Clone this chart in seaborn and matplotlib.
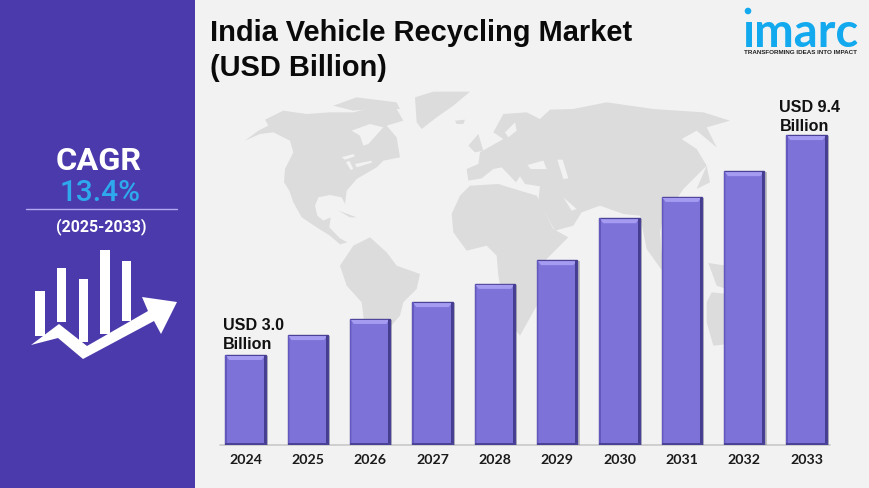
import matplotlib
matplotlib.use("Agg")
import matplotlib.pyplot as plt
import matplotlib.patheffects as pe
from matplotlib.patches import Polygon, Rectangle, Circle
import pandas as pd
import seaborn as sns

# Dados
anos = ["2024", "2025", "2026", "2027", "2028", "2029", "2030", "2031", "2032", "2033"]
valores = [3.0, 3.58, 4.05, 4.54, 5.07, 5.76, 6.98, 7.6, 8.35, 9.4]

W, H = 870, 489
FUNDO = "#f2f2f2"
MAPA = "#dcdcdc"
ROXO = "#4b3aab"
BARRA = "#7d72d8"
AZUL = "#12a9ee"

# Contornos do mapa: (origem x, origem y, pontos no zoom 3x)
zoom_a = (240, 90)
zoom_b = (440, 90)
terras = [
    (zoom_a, [(15, 155), (55, 125), (85, 110), (75, 92), (130, 65), (200, 75), (270, 70), (340, 70), (400, 55),
              (470, 60), (490, 95), (440, 110), (470, 145), (480, 205), (430, 215), (410, 235), (350, 270),
              (320, 305), (315, 345), (305, 325), (270, 318), (235, 325), (225, 350), (232, 380), (250, 395),
              (272, 385), (268, 415), (300, 448), (322, 460), (300, 466), (270, 440), (230, 415), (185, 385),
              (160, 340), (148, 305), (132, 280), (135, 240), (160, 190), (150, 155), (100, 130), (60, 135)]),
    (zoom_a, [(280, 50), (350, 25), (470, 40), (480, 60), (400, 60), (340, 65)]),
    (zoom_a, [(525, 25), (580, 8), (690, 8), (640, 50), (590, 85), (545, 120), (530, 100)]),
    (zoom_a, [(295, 365), (350, 385), (330, 385)]),
    (zoom_a, [(300, 530), (340, 470), (390, 445), (440, 490), (470, 530), (540, 555), (530, 600), (490, 640),
              (480, 680), (445, 720), (440, 800), (415, 900), (395, 900), (385, 780), (370, 680), (365, 640),
              (320, 590)]),
    (zoom_b, [(35, 375), (60, 320), (90, 290), (175, 285), (240, 305), (290, 320), (340, 420), (385, 445),
              (340, 490), (290, 540), (290, 650), (240, 740), (200, 690), (175, 560), (170, 500), (140, 470),
              (80, 485), (40, 430)]),
    (zoom_b, [(80, 240), (115, 225), (120, 190), (190, 150), (160, 130), (190, 75), (260, 70), (300, 90),
              (330, 62), (400, 60), (500, 40), (640, 60), (790, 70), (870, 95), (800, 115), (830, 175), (770, 125),
              (725, 150), (770, 180), (800, 230), (730, 300), (700, 345), (670, 380), (660, 430), (670, 550),
              (620, 480), (600, 380), (550, 375), (480, 350), (425, 370), (400, 410), (345, 425), (295, 335),
              (300, 292), (255, 285), (240, 262), (228, 280), (185, 235), (160, 240), (125, 268), (85, 275)]),
    (zoom_b, [(85, 170), (115, 135), (130, 185), (105, 190)]),
    (zoom_b, [(45, 95), (75, 92), (70, 105), (50, 105)]),
    (zoom_b, [(770, 300), (800, 230), (810, 280)]),
    (zoom_b, [(805, 522), (858, 530), (860, 600), (830, 590)]),
    (zoom_b, [(800, 640), (815, 610), (860, 615), (910, 640), (910, 760), (820, 770), (800, 700)]),
]
mares = [
    (zoom_a, [(335, 125), (390, 105), (430, 115), (385, 165), (370, 170), (360, 140)]),
    (zoom_a, [(305, 205), (340, 195), (345, 202), (315, 212)]),
    (zoom_a, [(318, 220), (328, 215), (340, 240), (332, 243)]),
    (zoom_a, [(345, 225), (395, 215), (395, 221), (350, 235)]),
    (zoom_b, [(262, 228), (310, 215), (320, 240), (272, 240)]),
    (zoom_b, [(352, 212), (368, 212), (385, 268), (370, 270)]),
    (zoom_b, [(195, 130), (225, 100), (230, 125), (205, 145)]),
    (zoom_b, [(370, 325), (410, 360), (395, 365)]),
]

# Icone do painel
icone_barras = [(35, 292, 10, 45), (57, 269, 9, 54), (79, 280, 9, 63), (100, 251, 10, 84), (122, 262, 9, 60)]
icone_seta = [(31, 346), (59, 325), (87, 347), (148, 312), (142, 298), (177, 303), (161, 335), (154, 322),
              (83, 360), (58, 339)]

sns.set_theme(style="white")
plt.rcParams["font.family"] = ["Liberation Sans", "DejaVu Sans"]

fig = plt.figure(figsize=(W / 100, H / 100), dpi=100, facecolor=FUNDO)

# Camada de fundo em pixels
bg = fig.add_axes([0, 0, 1, 1])
bg.set_xlim(0, W)
bg.set_ylim(H, 0)
bg.axis("off")


def para_pixels(origem, pts):
    return [(origem[0] + x / 3, origem[1] + y / 3) for x, y in pts]


for origem, pts in terras:
    bg.add_patch(Polygon(para_pixels(origem, pts), closed=True, fc=MAPA, ec="none"))
for origem, pts in mares:
    bg.add_patch(Polygon(para_pixels(origem, pts), closed=True, fc=FUNDO, ec="none"))

# Painel esquerdo
bg.add_patch(Rectangle((0, 0), 195, H, fc=ROXO, ec="none"))
bg.text(98.5, 161, "CAGR", color="white", fontsize=23.4, fontweight="bold", family="Roboto", ha="center", va="center")
bg.text(100.5, 193, "13.4%", color="#2ea9ee", fontsize=21.4, fontweight="medium", family="Roboto", ha="center", va="center")
bg.plot([26, 177], [210, 210], color="#b3a9f0", lw=1)
bg.text(101, 227, "(2025-2033)", color="white", fontsize=11.4, fontweight="bold", family="Roboto", ha="center", va="center")
for x, y, w, h in icone_barras:
    bg.add_patch(Rectangle((x, y), w, h, fc="white", ec="none"))
bg.add_patch(Polygon(icone_seta, closed=True, fc="white", ec="none"))

# Titulo
bg.text(210, 33, "India Vehicle Recycling Market", color="#0a0a0a", fontsize=20.85, fontweight="bold", va="center")
bg.text(210, 68, "(USD Billion)", color="#0a0a0a", fontsize=20.85, fontweight="bold", va="center")

# Logo
bg.add_patch(Circle((748, 12), 3.3, fc=AZUL, ec="none"))
bg.text(801, 47, "\u0131marc", color=AZUL, fontsize=34, fontweight="bold", family="Lato", ha="center", va="baseline")
bg.text(801, 53, "TRANSFORMING IDEAS INTO IMPACT", color="#222222", fontsize=4.5, fontweight="bold", ha="center", va="center")

# Linha de base do grafico
bg.plot([220, 830], [445.5, 445.5], color="#c8c8c8", lw=1.2)

# Grafico de barras
ax = fig.add_axes([214.3 / W, 1 - 446 / H, 623.4 / W, 345 / H])
ax.patch.set_alpha(0)
dados = pd.DataFrame({"ano": anos, "valor": valores})
sns.barplot(data=dados, x="ano", y="valor", ax=ax, width=0.65, color=BARRA, saturation=1,
            edgecolor="#4a4296", linewidth=1.0)
ax.set_xlim(-0.5, 9.5)
ax.set_ylim(0.382, 10.42)
ax.set_xlabel("")
ax.set_ylabel("")
ax.set_yticks([])
for lado in ax.spines:
    ax.spines[lado].set_visible(False)
ax.tick_params(axis="x", length=0, pad=6)
for rotulo in ax.get_xticklabels():
    rotulo.set_family("Lato")
    rotulo.set_fontweight("bold")
    rotulo.set_fontsize(10.2)
    rotulo.set_color("#1a1a1a")

# Chanfro e sombra de cada barra
px_x = 1 / 62.34
px_y = 10.038 / 345
for barra in ax.patches[:len(anos)]:
    x0, larg, topo = barra.get_x(), barra.get_width(), barra.get_height()
    barra.set_path_effects([pe.SimplePatchShadow(offset=(1.5, -0.7), shadow_rgbFace="#666666", alpha=0.35), pe.Normal()])
    ax.add_patch(Polygon([(x0 + px_x, topo - px_y), (x0 + larg - px_x, topo - px_y),
                          (x0 + larg - 4 * px_x, topo - 5 * px_y), (x0 + 4 * px_x, topo - 5 * px_y)],
                         closed=True, fc="#a59cf2", ec="none"))
    ax.add_patch(Rectangle((x0 + larg - 2 * px_x, 0.382), 2 * px_x, topo - 0.382, fc="#453d90", ec="none"))
    ax.add_patch(Rectangle((x0, 0.382), 1.5 * px_x, topo - 0.382, fc="#6258bd", ec="none"))
    ax.add_patch(Rectangle((x0, 0.382), larg, 2 * px_y, fc="#4a4296", ec="none"))

# Rotulos das pontas
rotulos = [(0, f"USD {valores[0]:.1f}\nBillion", (-16.5, 3)), (9, f"USD {valores[9]:.1f}\nBillion", (-19.5, 1.5))]
for i, texto, desloc in rotulos:
    ax.annotate(texto, xy=(i, valores[i]), xytext=desloc, textcoords="offset points", ha="left", va="bottom",
                fontsize=11.6, fontweight="bold", color="#111111", linespacing=1.35, annotation_clip=False)

plt.savefig("out.png", dpi=100, facecolor=FUNDO)
